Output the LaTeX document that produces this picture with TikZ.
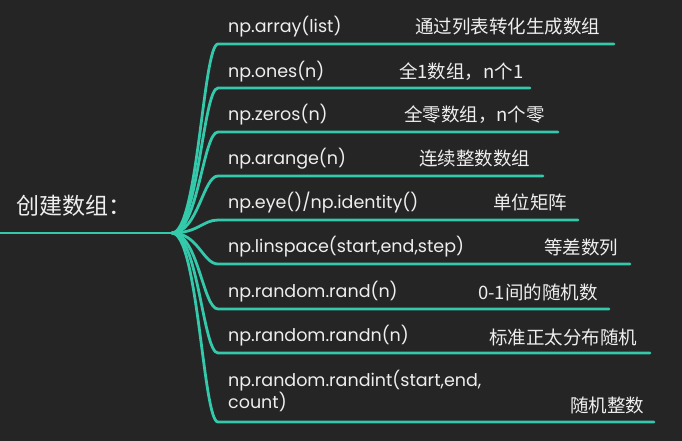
\documentclass[tikz,border=0pt]{standalone}
\usepackage{fontspec}
\setmainfont{Poppins}
\newfontfamily\cjk{Noto Sans CJK SC}
\definecolor{bg}{HTML}{262526}
\definecolor{teal}{HTML}{33C9AA}
\definecolor{txt}{HTML}{EEEEEE}
\begin{document}
\begin{tikzpicture}[x=1pt,y=-1pt,
  branch/.style={draw=teal,line width=2.8pt,line cap=round},
  code/.style={anchor=west,inner sep=0pt,text=txt,font=\fontsize{17.5}{22}\selectfont},
  cn/.style={anchor=west,inner sep=0pt,text=txt,font=\cjk\fontsize{18.5}{20}\selectfont},
  rootlbl/.style={anchor=west,inner sep=0pt,text=txt,font=\cjk\fontsize{23}{26}\selectfont}]
\fill[bg] (0,0) rectangle (682,441);
\useasboundingbox (0,0) rectangle (682,441);
\coordinate (start) at (0,233);
\coordinate (root) at (172,233);
\node[rootlbl] (rl) at (16,206) {创建数组：};
\draw[branch] (start) -- (root);
% branch ends
\foreach \n/\y/\xe in {1/44/614, 2/88/530, 3/132/558, 4/176/543, 5/220/578, 6/264/630, 7/309/609, 8/353/650, 9/422/654}{
  \coordinate (b\n) at (218,\y);
  \coordinate (e\n) at (\xe,\y);
  \draw[branch] (root) .. controls (198,233) and (203,\y) .. (b\n) -- (e\n);
}
\node[code] (c1) at (228,27) {np.array(list)};
\node[code] (c2) at (228,72) {np.ones(n)};
\node[code] (c3) at (228,115) {np.zeros(n)};
\node[code] (c4) at (228,159) {np.arange(n)};
\node[code] (c5) at (228,203) {np.eye()/np.identity()};
\node[code] (c6) at (228,247) {np.linspace(start,end,step)};
\node[code] (c7) at (228,292) {np.random.rand(n)};
\node[code] (c8) at (228,336) {np.random.randn(n)};
\node[code,align=left] (c9) at (228,391) {np.random.randint(start,end,\\count)};
\node[cn] (d1) at (415,27) {通过列表转化生成数组};
\node[cn] (d2) at (399,72) {全1数组，n个1};
\node[cn] (d3) at (404,115) {全零数组，n个零};
\node[cn] (d4) at (419,158) {连续整数数组};
\node[cn] (d5) at (493,202) {单位矩阵};
\node[cn] (d6) at (544,247) {等差数列};
\node[cn] (d7) at (478,292) {0-1间的随机数};
\node[cn] (d8) at (489,337) {标准正太分布随机};
\node[cn] (d9) at (570,405) {随机整数};
\end{tikzpicture}
\end{document}
